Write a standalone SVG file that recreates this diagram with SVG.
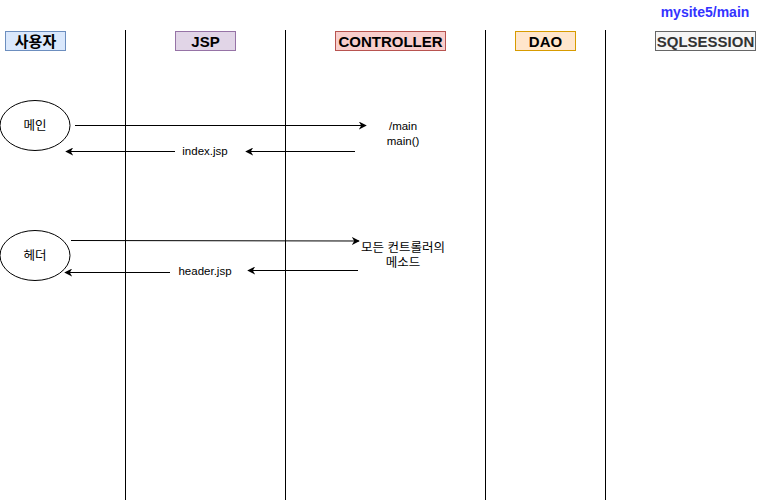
<svg xmlns="http://www.w3.org/2000/svg" width="784" height="502" viewBox="0 0 784 502">
<defs>
<marker id="arr" viewBox="0 0 10 10" refX="9" refY="5" markerWidth="8" markerHeight="8" markerUnits="userSpaceOnUse" orient="auto">
<path d="M0,0 L10,5 L0,10 L3,5 Z" fill="#000"/>
</marker>
</defs>
<style>
.hd{font-family:"Liberation Sans","Noto Sans CJK KR",sans-serif;font-size:15px;font-weight:bold;text-anchor:middle}
.lb{font-family:"Liberation Sans","Noto Sans CJK KR",sans-serif;font-size:11.5px;text-anchor:middle;fill:#000}
.kr{font-size:12.5px}
.life{stroke:#000;stroke-width:1}
.con{stroke:#000;stroke-width:1;fill:none;marker-end:url(#arr)}
.ell{fill:#fff;stroke:#000;stroke-width:1}
</style>
<rect width="784" height="502" fill="#fff"/>
<g id="title"><text x="705" y="17" font-family="Liberation Sans, sans-serif" font-size="14" font-weight="bold" fill="#3333ff" text-anchor="middle">mysite5/main</text></g>
<g id="lifelines">
<line class="life" x1="125.5" y1="30" x2="125.5" y2="500"/>
<line class="life" x1="285.5" y1="30" x2="285.5" y2="500"/>
<line class="life" x1="485.5" y1="30" x2="485.5" y2="500"/>
<line class="life" x1="605.5" y1="30" x2="605.5" y2="500"/>
</g>
<g id="h-user"><rect x="5.5" y="31.5" width="60" height="19" fill="#dae8fc" stroke="#6c8ebf"/><text class="hd" x="35.5" y="46.5" fill="#000">사용자</text></g>
<g id="h-jsp"><rect x="175.5" y="31.5" width="60" height="19" fill="#e1d5e7" stroke="#9673a6"/><text class="hd" x="205.5" y="46.5" fill="#000">JSP</text></g>
<g id="h-controller"><rect x="335.5" y="31.5" width="110" height="19" fill="#f8cecc" stroke="#b85450"/><text class="hd" x="390.5" y="46.5" fill="#000">CONTROLLER</text></g>
<g id="h-dao"><rect x="515.5" y="31.5" width="60" height="19" fill="#ffe6cc" stroke="#d79b00"/><text class="hd" x="545.5" y="46.5" fill="#000">DAO</text></g>
<g id="h-sql"><rect x="655.5" y="31.5" width="100" height="19" fill="#f5f5f5" stroke="#666666"/><text class="hd" x="705.5" y="46.5" fill="#333333">SQLSESSION</text></g>
<g id="n-main"><ellipse class="ell" cx="35" cy="125.5" rx="35" ry="25"/><text class="lb kr" x="35" y="130">메인</text></g>
<g id="n-header"><ellipse class="ell" cx="35" cy="255.5" rx="35" ry="25"/><text class="lb kr" x="35" y="260">헤더</text></g>
<g id="t-main"><text class="lb" x="403" y="130">/main</text><text class="lb" x="403" y="145">main()</text></g>
<g id="t-method"><text class="lb kr" x="403" y="252">모든 컨트롤러의</text><text class="lb kr" x="403" y="267">메소드</text></g>
<g id="t-index"><text class="lb" x="205" y="155">index.jsp</text></g>
<g id="t-headerjsp"><text class="lb" x="205" y="275">header.jsp</text></g>
<g id="connectors">
<line class="con" x1="75" y1="125.5" x2="366" y2="125.5"/>
<line class="con" x1="355" y1="151.5" x2="246" y2="151.5"/>
<line class="con" x1="175" y1="151.5" x2="66" y2="151.5"/>
<line class="con" x1="71" y1="240.5" x2="359" y2="241"/>
<line class="con" x1="358" y1="270.5" x2="248" y2="270.5"/>
<line class="con" x1="170" y1="272.5" x2="65" y2="272.5"/>
</g>
</svg>
